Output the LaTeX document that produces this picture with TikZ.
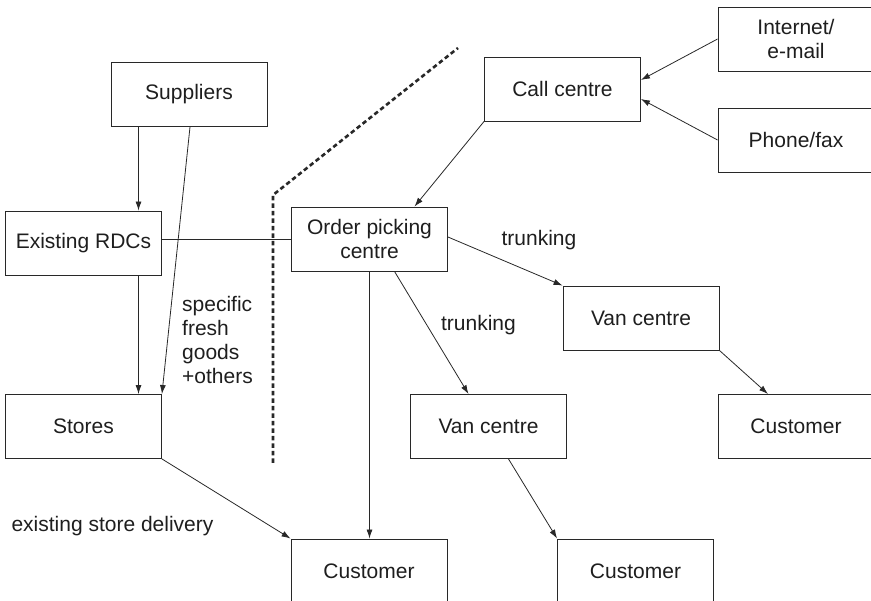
\documentclass[tikz,border=0pt]{standalone}
\usepackage{fontspec}
\setmainfont{Liberation Sans}
\usetikzlibrary{arrows.meta}
\begin{document}
\begin{tikzpicture}[x=1pt,y=-1pt,
  font=\fontsize{21}{24}\selectfont,
  box/.style={draw=ln,line width=.9pt,minimum width=156pt,minimum height=64pt,
    align=center,text=tx,inner sep=2pt},
  arr/.style={draw=ln,line width=.8pt,-{Latex[length=9pt,width=6pt]}},
  lbl/.style={text=tx,inner sep=0pt}]
 \definecolor{ln}{RGB}{40,40,40}
 \definecolor{tx}{RGB}{30,30,30}
 \useasboundingbox (0,0) rectangle (871,601);
 % boxes
 \node[box] (sup) at (189,94.5) {Suppliers};
 \node[box] (rdc) at (83.5,243) {Existing RDCs};
 \node[box] (stores) at (83.5,426.5) {Stores};
 \node[box] (opc) at (369.5,239) {Order picking\\centre};
 \node[box] (call) at (562.5,89) {Call centre};
 \node[box] (inet) at (796,39) {Internet/\\e-mail};
 \node[box] (phone) at (796,140) {Phone/fax};
 \node[box] (van1) at (641,318) {Van centre};
 \node[box] (van2) at (488.5,426.5) {Van centre};
 \node[box] (custr) at (796,426.5) {Customer};
 \node[box] (cust1) at (369,571) {Customer};
 \node[box] (cust2) at (635.5,571) {Customer};
 % labels
 \node[lbl] (trunk1) at (539,240) {trunking};
 \node[lbl] (trunk2) at (478.5,325) {trunking};
 \node[lbl] (exdel) at (112.5,526) {existing store delivery};
 \node[lbl,anchor=west,align=left] (fresh) at (182,340)
   {specific\\fresh\\goods\\+others};
 % dashed border
 \draw[ln,line width=2.6pt,dash pattern=on 4.5pt off 3pt]
   (273,463) -- (273,195) -- (458,48);
 % connectors
 \draw[arr] ([xshift=55pt]rdc.north |- sup.south) -- ([xshift=55pt]rdc.north);
 \draw[arr] ([xshift=1pt]sup.south) -- (stores.north east);
 \draw[arr] ([xshift=55pt]rdc.south) -- ([xshift=55pt]stores.north);
 \draw[ln,line width=.8pt] (opc.west) -- (opc.west -| rdc.east);
 \draw[arr] (call.south west) -- ([xshift=45pt]opc.north);
 \draw[arr] (inet.west) -- ([yshift=9pt]call.east);
 \draw[arr] (phone.west) -- ([yshift=-10pt]call.east);
 \draw[arr] ([yshift=2pt]opc.east) -- (van1.north west);
 \draw[arr] ([xshift=25pt]opc.south) -- ([xshift=-20pt]van2.north);
 \draw[arr] (opc.south) -- (opc.south |- cust1.north);
 \draw[arr] (van1.south east) -- ([xshift=-28pt]custr.north);
 \draw[arr] ([xshift=20pt]van2.south) -- (cust2.north west);
 \draw[arr] (stores.south east) -- (cust1.north west);
\end{tikzpicture}
\end{document}
